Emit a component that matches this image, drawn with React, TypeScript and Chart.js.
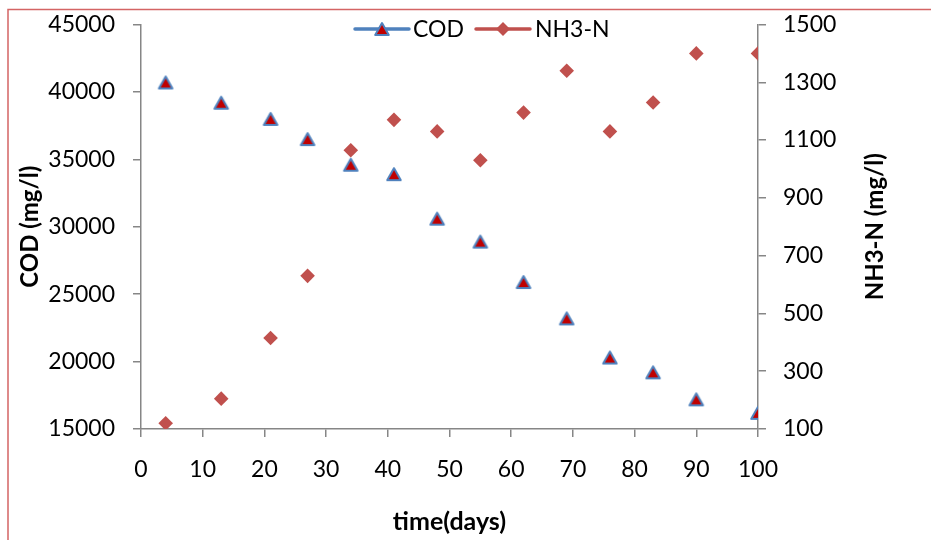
import React, { useEffect, useRef } from "react";
import { Chart, registerables } from "chart.js";

Chart.register(...registerables);

// Sampling days and measured concentrations
const days = [4, 13, 21, 27, 34, 41, 48, 55, 62, 69, 76, 83, 90, 100];
const codValues = [40700, 39200, 38000, 36500, 34600, 33900, 30600, 28900, 25900, 23200, 20300, 19200, 17200, 16200];
const nh3nValues = [120, 205, 415, 630, 1065, 1170, 1130, 1030, 1195, 1340, 1130, 1230, 1400, 1400];

// Axis tick values
const dayTicks = [0, 10, 20, 30, 40, 50, 60, 70, 80, 90, 100];
const codTicks = [15000, 20000, 25000, 30000, 35000, 40000, 45000];
const nh3nTicks = [100, 300, 500, 700, 900, 1100, 1300, 1500];

const FONT = "Lato, 'Open Sans', sans-serif";
const AXIS_GRAY = "#868686";
const COD_BLUE = "#4f81bd";
const COD_FILL = "#c00000";
const NH3_RED = "#c0504d";

function makeTriangle(): HTMLCanvasElement {
  const c = document.createElement("canvas");
  c.width = 18;
  c.height = 18;
  const g = c.getContext("2d")!;
  g.beginPath();
  g.moveTo(9, 3);
  g.lineTo(15.8, 15);
  g.lineTo(2.2, 15);
  g.closePath();
  g.fillStyle = COD_FILL;
  g.fill();
  g.lineWidth = 2;
  g.lineJoin = "round";
  g.strokeStyle = COD_BLUE;
  g.stroke();
  return c;
}

function drawDiamond(ctx: CanvasRenderingContext2D, x: number, y: number, r: number) {
  ctx.beginPath();
  ctx.moveTo(x - r, y);
  ctx.lineTo(x, y - r);
  ctx.lineTo(x + r, y);
  ctx.lineTo(x, y + r);
  ctx.closePath();
  ctx.fillStyle = NH3_RED;
  ctx.fill();
}

// keep tick-label overflow from pushing the plot area inward
const noVerticalPadding = (s: any) => {
  s.paddingTop = 0;
  s.paddingBottom = 0;
};

export default function App() {
  const canvasRef = useRef<HTMLCanvasElement | null>(null);

  useEffect(() => {
    if (!canvasRef.current) return;
    const triangle = makeTriangle();

    const decorations = {
      id: "decorations",
      beforeDraw(chart: any) {
        const ctx = chart.ctx;
        ctx.save();
        ctx.fillStyle = "#ffffff";
        ctx.fillRect(0, 0, chart.width, chart.height);
        ctx.restore();
      },
      afterDraw(chart: any) {
        const ctx: CanvasRenderingContext2D = chart.ctx;
        const area = chart.chartArea;
        ctx.save();

        // outer frame
        ctx.strokeStyle = "#d46464";
        ctx.lineWidth = 1.5;
        ctx.beginPath();
        ctx.moveTo(8, 540);
        ctx.lineTo(8, 9.5);
        ctx.lineTo(931, 9.5);
        ctx.stroke();

        // axis titles
        ctx.fillStyle = "#000";
        ctx.font = `bold 24px ${FONT}`;
        ctx.textAlign = "center";
        ctx.textBaseline = "middle";
        const midY = (area.top + area.bottom) / 2;

        ctx.save();
        ctx.translate(30, midY);
        ctx.rotate(-Math.PI / 2);
        ctx.fillText("COD (mg/l)", 0, 0);
        ctx.restore();

        ctx.save();
        ctx.translate(875, midY);
        ctx.rotate(-Math.PI / 2);
        ctx.fillText("NH3-N (mg/l)", 0, 0);
        ctx.restore();

        ctx.font = `bold 25px ${FONT}`;
        ctx.fillText("time(days)", (area.left + area.right) / 2, 522);

        // legend
        const ly = 29;
        ctx.lineCap = "round";
        ctx.lineWidth = 3.5;
        ctx.strokeStyle = COD_BLUE;
        ctx.beginPath();
        ctx.moveTo(355, ly);
        ctx.lineTo(409, ly);
        ctx.stroke();
        ctx.drawImage(triangle, 382 - 9, ly - 9);

        ctx.strokeStyle = NH3_RED;
        ctx.beginPath();
        ctx.moveTo(476, ly);
        ctx.lineTo(530, ly);
        ctx.stroke();
        drawDiamond(ctx, 503, ly, 7);

        ctx.font = `23px ${FONT}`;
        ctx.textAlign = "left";
        ctx.fillStyle = "#000";
        ctx.fillText("COD", 413, ly + 1);
        ctx.fillText("NH3-N", 535, ly + 1);

        ctx.restore();
      },
    };

    const tickFont = { family: FONT, size: 23 };
    const gridOpts = {
      drawOnChartArea: false,
      drawTicks: true,
      tickLength: 8,
      color: AXIS_GRAY,
      lineWidth: 1.5,
    };
    const borderOpts = { color: AXIS_GRAY, width: 1.5 };

    const chart = new Chart(canvasRef.current, {
      type: "scatter",
      data: {
        datasets: [
          {
            label: "COD",
            data: days.map((d, i) => ({ x: d, y: codValues[i] })),
            yAxisID: "y",
            pointStyle: triangle as any,
            pointRadius: 9,
            showLine: false,
            backgroundColor: COD_FILL,
            borderColor: COD_BLUE,
          },
          {
            label: "NH3-N",
            data: days.map((d, i) => ({ x: d, y: nh3nValues[i] })),
            yAxisID: "y1",
            pointStyle: "rectRot",
            pointRadius: 7.3,
            pointBorderWidth: 0,
            showLine: false,
            backgroundColor: NH3_RED,
            borderColor: NH3_RED,
          },
        ],
      },
      options: {
        animation: false,
        responsive: false,
        maintainAspectRatio: false,
        events: [],
        layout: { padding: { top: 24.5, left: 0, right: 0, bottom: 0 } },
        plugins: {
          legend: { display: false },
          tooltip: { enabled: false },
          title: { display: false },
        },
        scales: {
          x: {
            type: "linear",
            position: "bottom",
            min: 0,
            max: 100,
            grid: gridOpts,
            border: borderOpts,
            afterBuildTicks: (s: any) => {
              s.ticks = dayTicks.map((v) => ({ value: v }));
            },
            afterFit: (s: any) => {
              s.height = 111;
            },
            ticks: {
              font: tickFont,
              color: "#000",
              padding: 19,
              maxRotation: 0,
              autoSkip: false,
              callback: (v: any) => String(v),
            },
          },
          y: {
            type: "linear",
            position: "left",
            min: 15000,
            max: 45000,
            grid: gridOpts,
            border: borderOpts,
            afterBuildTicks: (s: any) => {
              s.ticks = codTicks.map((v) => ({ value: v }));
            },
            afterFit: (s: any) => {
              s.width = 141;
              noVerticalPadding(s);
            },
            ticks: {
              font: tickFont,
              color: "#000",
              padding: 18,
              autoSkip: false,
              callback: (v: any) => String(v),
            },
          },
          y1: {
            type: "linear",
            position: "right",
            min: 100,
            max: 1500,
            grid: gridOpts,
            border: borderOpts,
            afterBuildTicks: (s: any) => {
              s.ticks = nh3nTicks.map((v) => ({ value: v }));
            },
            afterFit: (s: any) => {
              s.width = 173;
              noVerticalPadding(s);
            },
            ticks: {
              font: tickFont,
              color: "#000",
              padding: 17,
              autoSkip: false,
              callback: (v: any) => String(v),
            },
          },
        },
      },
      plugins: [decorations],
    } as any);

    return () => chart.destroy();
  }, []);

  return (
    <div style={{ position: "absolute", left: 0, top: 0, width: 931, height: 540, background: "#fff" }}>
      <canvas ref={canvasRef} width={931} height={540} style={{ width: 931, height: 540, display: "block" }} />
    </div>
  );
}
